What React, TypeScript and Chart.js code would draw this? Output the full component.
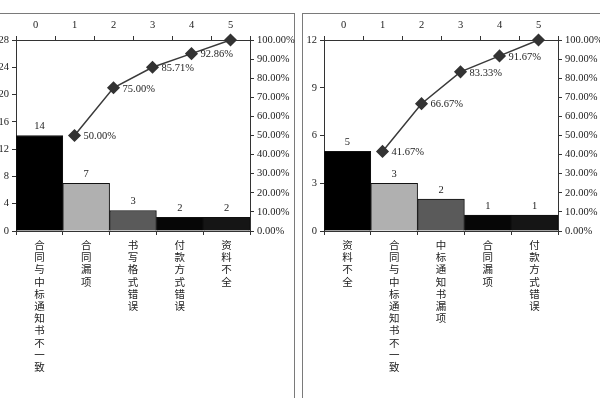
import React, { useEffect, useRef } from "react";
import { Chart, registerables } from "chart.js";

Chart.register(...registerables);

// ---------- data ----------
const leftCategories = ["合同与中标通知书不一致", "合同漏项", "书写格式错误", "付款方式错误", "资料不全"];
const leftCounts = [14, 7, 3, 2, 2];
const leftCumPct = [50.0, 75.0, 85.71, 92.86, 100.0];
const leftCountMax = 28;
const leftCountStep = 4;

const rightCategories = ["资料不全", "合同与中标通知书不一致", "中标通知书漏项", "合同漏项", "付款方式错误"];
const rightCounts = [5, 3, 2, 1, 1];
const rightCumPct = [41.67, 66.67, 83.33, 91.67, 100.0];
const rightCountMax = 12;
const rightCountStep = 3;

const topAxisMin = 0;
const topAxisMax = 5;
const pctMax = 100;
const pctStep = 10;

const barColors = ["#000000", "#b0b0b0", "#5a5a5a", "#060606", "#151515"];

const NUM_FONT = '"Liberation Serif", "DejaVu Serif", serif';
const CJK_FONT = '"Noto Sans CJK SC", sans-serif';
const TEXT = "#222";
const AXIS = "#333";

type Geo = {
  left: number; top: number; width: number; height: number;
  plotLeft: number; plotRight: number; plotTop: number; plotBottom: number;
};

function ParetoChart(props: {
  categories: string[]; counts: number[]; cumPct: number[];
  countMax: number; countStep: number; geo: Geo;
}) {
  const ref = useRef<HTMLCanvasElement | null>(null);
  const { categories, counts, cumPct, countMax, countStep, geo } = props;

  useEffect(() => {
    if (!ref.current) return;
    const labelPlugin = {
      id: "paretoLabels",
      afterDatasetsDraw(chart: any) {
        const ctx = chart.ctx;
        ctx.save();
        ctx.font = `10.5px ${NUM_FONT}`;
        ctx.fillStyle = TEXT;
        const barMeta = chart.getDatasetMeta(1);
        const barData = chart.data.datasets[1].data;
        barMeta.data.forEach((el: any, i: number) => {
          ctx.textAlign = "center";
          ctx.textBaseline = "bottom";
          ctx.fillText(String(barData[i]), el.x, el.y - 4);
        });
        const lineMeta = chart.getDatasetMeta(0);
        const lineData = chart.data.datasets[0].data;
        lineMeta.data.forEach((el: any, i: number) => {
          if (i === lineMeta.data.length - 1) return;
          ctx.textAlign = "left";
          ctx.textBaseline = "middle";
          ctx.fillText(lineData[i].y.toFixed(2) + "%", el.x + 9, el.y + 1);
        });
        ctx.restore();
      },
    };

    const tickFont = { family: NUM_FONT, size: 10.5 };
    const chart = new Chart(ref.current, {
      type: "bar",
      data: {
        labels: categories.map((c) => c.split("")),
        datasets: [
          {
            type: "line",
            data: cumPct.map((v, i) => ({ x: i + 1, y: v })),
            xAxisID: "x2",
            yAxisID: "y2",
            borderColor: "#3a3a3a",
            borderWidth: 1.5,
            pointStyle: "rectRot",
            pointRadius: 5.5,
            pointBackgroundColor: "#333",
            pointBorderColor: "#333",
            tension: 0,
            clip: false,
            order: 0,
          } as any,
          {
            type: "bar",
            data: counts,
            xAxisID: "x",
            yAxisID: "y",
            backgroundColor: barColors,
            borderColor: "#111",
            borderWidth: 1,
            grouped: false,
            barPercentage: 1,
            categoryPercentage: 1,
            order: 1,
          } as any,
        ],
      },
      options: {
        animation: false,
        responsive: false,
        layout: { padding: 0 },
        plugins: { legend: { display: false }, tooltip: { enabled: false } },
        scales: {
          x: {
            type: "category",
            position: "bottom",
            offset: true,
            grid: { drawOnChartArea: false, offset: true, tickLength: 4, color: AXIS },
            border: { color: AXIS, width: 1 },
            ticks: {
              color: TEXT,
              padding: 4,
              maxRotation: 0,
              minRotation: 0,
              autoSkip: false,
              font: { family: CJK_FONT, size: 10.5, lineHeight: "12.2px" } as any,
            },
            afterFit: (s: any) => { s.height = geo.height - geo.plotBottom; },
          },
          x2: {
            type: "linear",
            position: "top",
            min: topAxisMin,
            max: topAxisMax,
            grid: { drawOnChartArea: false, tickLength: 4, color: AXIS },
            border: { color: AXIS, width: 1 },
            ticks: { stepSize: 1, color: TEXT, padding: 4, font: tickFont },
            afterFit: (s: any) => { s.height = geo.plotTop; },
          },
          y: {
            type: "linear",
            position: "left",
            min: 0,
            max: countMax,
            grid: { drawOnChartArea: false, tickLength: 4, color: AXIS },
            border: { color: AXIS, width: 1 },
            ticks: { stepSize: countStep, color: TEXT, padding: 3, font: tickFont },
            afterFit: (s: any) => { s.width = geo.plotLeft; },
          },
          y2: {
            type: "linear",
            position: "right",
            min: 0,
            max: pctMax,
            grid: { drawOnChartArea: false, tickLength: 4, color: AXIS },
            border: { color: AXIS, width: 1 },
            ticks: {
              stepSize: pctStep,
              color: TEXT,
              padding: 3,
              font: tickFont,
              callback: (v: any) => Number(v).toFixed(2) + "%",
            },
            afterFit: (s: any) => { s.width = geo.width - geo.plotRight; },
          },
        },
      } as any,
      plugins: [labelPlugin],
    });
    return () => chart.destroy();
  }, []);

  return (
    <canvas
      ref={ref}
      width={geo.width}
      height={geo.height}
      style={{
        position: "absolute",
        left: geo.left,
        top: geo.top,
        width: geo.width,
        height: geo.height,
      }}
    />
  );
}

const leftGeo: Geo = {
  left: -10, top: 15, width: 310, height: 383,
  plotLeft: 26, plotRight: 260, plotTop: 25, plotBottom: 216,
};
const rightGeo: Geo = {
  left: 303, top: 15, width: 310, height: 383,
  plotLeft: 21, plotRight: 255, plotTop: 25, plotBottom: 216,
};

export default function App() {
  return (
    <div
      style={{
        position: "fixed",
        left: 0,
        top: 0,
        width: 600,
        height: 398,
        overflow: "hidden",
        background: "#fff",
      }}
    >
      <div
        style={{
          position: "absolute",
          left: -10,
          top: 13,
          width: 305,
          height: 430,
          border: "1px solid #7a7a7a",
          boxSizing: "border-box",
        }}
      />
      <div
        style={{
          position: "absolute",
          left: 302,
          top: 13,
          width: 330,
          height: 430,
          border: "1px solid #7a7a7a",
          boxSizing: "border-box",
        }}
      />
      <ParetoChart
        categories={leftCategories}
        counts={leftCounts}
        cumPct={leftCumPct}
        countMax={leftCountMax}
        countStep={leftCountStep}
        geo={leftGeo}
      />
      <ParetoChart
        categories={rightCategories}
        counts={rightCounts}
        cumPct={rightCumPct}
        countMax={rightCountMax}
        countStep={rightCountStep}
        geo={rightGeo}
      />
    </div>
  );
}
